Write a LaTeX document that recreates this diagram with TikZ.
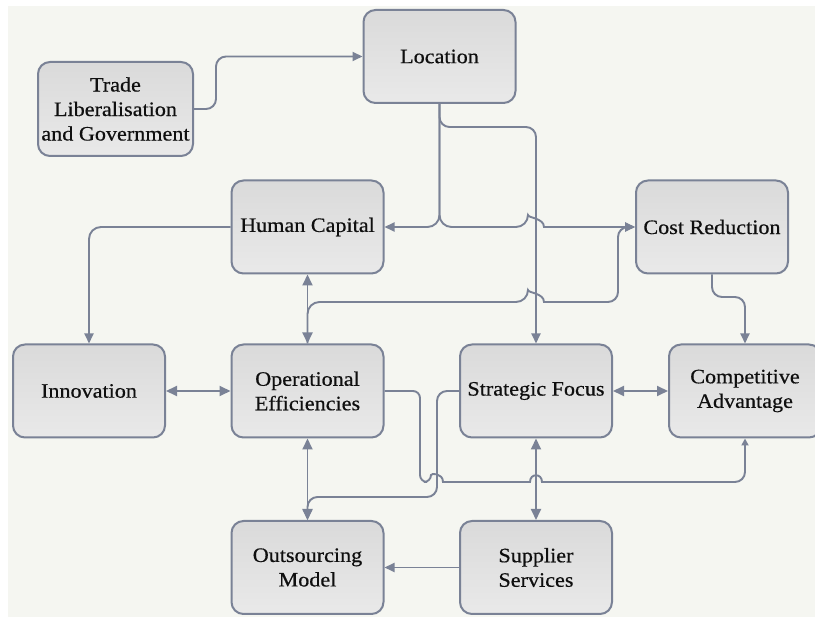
\documentclass[tikz,border=0pt]{standalone}
\usepackage{fontspec}
\setmainfont[FakeStretch=1.08,FakeBold=0.5]{Liberation Serif}
\usetikzlibrary{arrows.meta}
\definecolor{linec}{RGB}{122,130,150}
\definecolor{bgc}{RGB}{245,246,241}
\definecolor{boxtop}{RGB}{218,218,218}
\definecolor{boxbot}{RGB}{233,233,233}
\definecolor{txt}{RGB}{15,15,15}
\tikzset{
  box/.style={draw=linec, line width=2pt, rounded corners=12pt,
    top color=boxtop, bottom color=boxbot, minimum width=152pt, minimum height=93pt,
    align=center, text=txt, font=\fontsize{20.5}{24.5}\selectfont, inner sep=2pt},
  conn/.style={draw=linec, line width=1.9pt, -{Triangle[length=10pt,width=9pt]}},
  connsmall/.style={draw=linec, line width=1.9pt, -{Triangle[length=7pt,width=7pt]}},
  both/.style={draw=linec, line width=1.9pt, {Triangle[length=11pt,width=10pt]}-{Triangle[length=11pt,width=10pt]}},
}
\begin{document}
\begin{tikzpicture}[x=1pt,y=-1pt]
\useasboundingbox (0,0) rectangle (815,617);
\clip (0,0) rectangle (815,617);
\fill[bgc] (8,6) rectangle (815,617);

\node[box, minimum width=155pt, minimum height=94pt] (trade) at (115.5,109) {Trade\\Liberalisation\\and Government};
\node[box] (loc) at (439.5,56.5) {Location};
\node[box] (hc) at (307.5,227) {Human Capital};
\node[box] (cr) at (712,227) {Cost Reduction};
\node[box] (inn) at (89,391) {Innovation};
\node[box] (oe) at (307.5,391) {Operational\\Efficiencies};
\node[box] (sf) at (536,391) {Strategic Focus};
\node[box] (ca) at (745,391) {Competitive\\Advantage};
\node[box] (out) at (307.5,567.5) {Outsourcing\\Model};
\node[box] (sup) at (536,567.5) {Supplier\\Services};

% Trade -> Location
\draw[conn, rounded corners=10pt] (trade.east) -- (216,109) -- (216,56.5) -- (loc.west);
% Location -> Human Capital
\draw[conn, rounded corners=12pt] (loc.south) -- (439.5,227) -- (hc.east);
% Location -> Cost Reduction
\draw[conn, rounded corners=12pt] (loc.south) -- (439.5,227) -- (528,227)
  [sharp corners] .. controls (528,218) and (544,218) .. (544,227) -- (cr.west);
% Location -> Strategic Focus
\draw[conn, rounded corners=10pt] (loc.south) -- (439.5,127) -- (536,127) -- (sf.north);
% Operational Efficiencies -> Cost Reduction
\draw[conn, rounded corners=12pt] (oe.north) -- (307.5,302) -- (528,302)
  [sharp corners] .. controls (528,293) and (544,293) .. (544,302)
  [rounded corners=10pt] -- (618,302) -- (618,227) -- (cr.west);
% Human Capital <-> Operational Efficiencies
\draw[both] (hc.south) -- (oe.north);
% Human Capital -> Innovation
\draw[conn, rounded corners=12pt] (hc.west) -- (89,227) -- (inn.north);
% Innovation <-> Operational Efficiencies
\draw[both] (inn.east) -- (oe.west);
% Strategic Focus <-> Competitive Advantage
\draw[both] (sf.east) -- (ca.west);
% Cost Reduction -> Competitive Advantage
\draw[conn, rounded corners=10pt] (cr.south) -- (712,297) -- (745,297) -- (ca.north);
% Operational Efficiencies -> Competitive Advantage
\draw[connsmall, rounded corners=7pt] (oe.east) -- (420,391) -- (420,482) -- (431,482)
  [sharp corners] .. controls (431,473) and (443,473) .. (443,482) -- (530,482)
  .. controls (530,473) and (542,473) .. (542,482)
  [rounded corners=10pt] -- (745,482) -- (ca.south);
% Strategic Focus -> Outsourcing Model
\draw[conn, rounded corners=10pt] (sf.west) -- (437,391) -- (437,497) -- (307.5,497) -- (out.north);
% Operational Efficiencies <-> Outsourcing Model
\draw[both] (oe.south) -- (out.north);
% Strategic Focus <-> Supplier Services
\draw[both] (sf.south) -- (sup.north);
% Supplier Services -> Outsourcing Model
\draw[conn] (sup.west) -- (out.east);
\end{tikzpicture}
\end{document}
